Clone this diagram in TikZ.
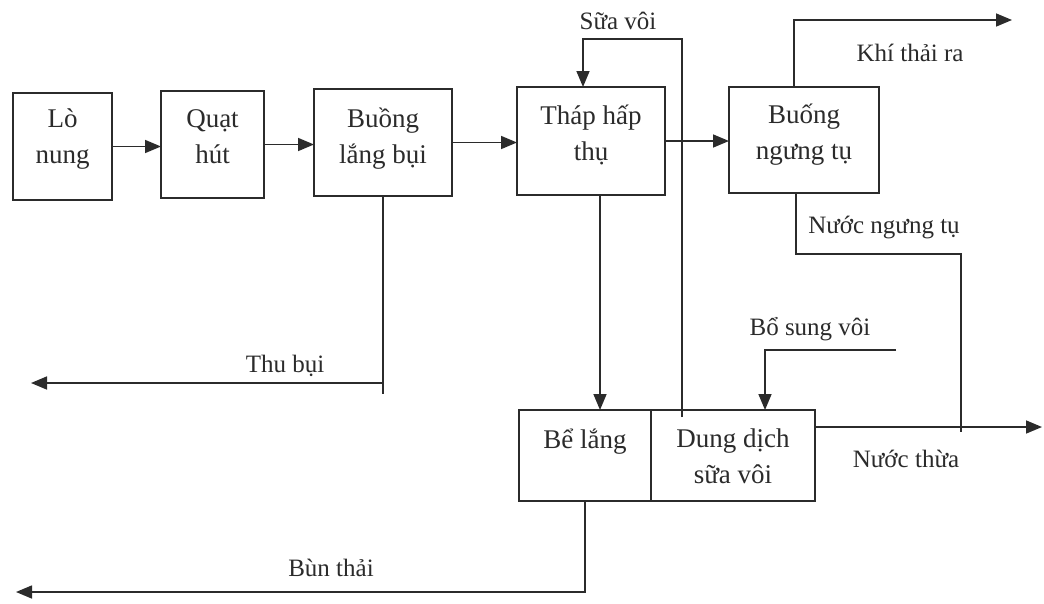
\documentclass[tikz,border=0pt]{standalone}
\usepackage{fontspec}
\setmainfont{Liberation Serif}
\usetikzlibrary{arrows.meta,calc}
\definecolor{ink}{HTML}{2B2B2B}
\tikzset{
  box/.style={draw=ink, line width=1.7pt, rectangle, inner sep=0pt, outer sep=0pt},
  boxtxt/.style={text=ink, align=center, inner sep=0pt, font=\fontsize{27}{36}\selectfont},
  lbl/.style={text=ink, inner sep=0pt, anchor=base, font=\fontsize{25}{30}\selectfont},
  conn/.style={draw=ink, line width=1.6pt},
  arr/.style={conn, -{Triangle[length=16pt,width=13pt]}}
}
\begin{document}
\begin{tikzpicture}[x=1pt,y=-1pt]
\useasboundingbox[fill=white] (0,0) rectangle (1044,603);
% boxes
\node[box, minimum width=99pt, minimum height=107pt] (lo) at (62.5,146.5) {};
\node[box, minimum width=103pt, minimum height=107pt] (quat) at (212.5,144.5) {};
\node[box, minimum width=138pt, minimum height=107pt] (buong) at (383,142.5) {};
\node[box, minimum width=148pt, minimum height=108pt] (thap) at (591,141) {};
\node[box, minimum width=150pt, minimum height=106pt] (ngung) at (804,140) {};
\node[box, minimum width=132pt, minimum height=91pt] (be) at (585,455.5) {};
\node[box, minimum width=164pt, minimum height=91pt] (dd) at (733,455.5) {};
% box texts
\node[boxtxt] (lot) at (62.5,138) {\strut Lò\\nung\strut};
\node[boxtxt] (quatt) at (212.5,138) {\strut Quạt\\hút\strut};
\node[boxtxt] (buongt) at (383,138) {\strut Buồng\\lắng bụi\strut};
\node[boxtxt] (thapt) at (591,135) {\strut Tháp hấp\\thụ\strut};
\node[boxtxt] (ngungt) at (804,134) {\strut Buống\\ngưng tụ\strut};
\node[boxtxt] (bet) at (585,440.8) {\strut Bể lắng};
\node[boxtxt] (ddt) at (733,458) {\strut Dung dịch\\sữa vôi\strut};
% coordinates for free ends
\coordinate (kt) at (1012,20);
\coordinate (nt) at (961,254);
\coordinate (ntend) at (961,432);
\coordinate (nthua) at (1042,427);
\coordinate (sv) at (583,39);
\coordinate (bsv) at (896,350);
\coordinate (tb) at (31,383);
\coordinate (bt) at (16,592);
% main flow
\draw[arr] (lo.east) -- (lo.east -| quat.west);
\draw[arr] (quat.east) -- (quat.east -| buong.west);
\draw[arr] (buong.east) -- (buong.east -| thap.west);
\draw[arr] (thap.east) -- (thap.east -| ngung.west);
% khi thai ra
\draw[arr] ([xshift=-10pt]ngung.north) |- (kt);
% nuoc ngung tu
\draw[conn] ([xshift=-8pt]ngung.south) |- (nt) -- (ntend);
% nuoc thua
\draw[arr] ([yshift=28.5pt]dd.east) -- (nthua);
% sua voi loop
\draw[arr] ([xshift=-51pt,yshift=-7pt]dd.north) |- (sv) -- ([xshift=-8pt]thap.north);
% thap -> be lang
\draw[arr] ([xshift=9pt]thap.south) -- ([xshift=9pt]thap.south |- be.north);
% bo sung voi
\draw[arr] (bsv) -| ([xshift=32pt]dd.north);
% thu bui
\draw[conn] (buong.south) -- ++(0,198);
\draw[arr] (buong.south |- tb) -- (tb);
% bun thai
\draw[arr] (be.south) |- (bt);
% labels
\node[lbl] (lsv) at (618,29) {Sữa vôi};
\node[lbl] (lkt) at (910,61) {Khí thải ra};
\node[lbl] (lnt) at (884,233) {Nước ngưng tụ};
\node[lbl] (lbs) at (810,335) {Bổ sung vôi};
\node[lbl] (lnth) at (906,467) {Nước thừa};
\node[lbl] (ltb) at (285,372) {Thu bụi};
\node[lbl] (lbt) at (331,576) {Bùn thải};
\end{tikzpicture}
\end{document}
